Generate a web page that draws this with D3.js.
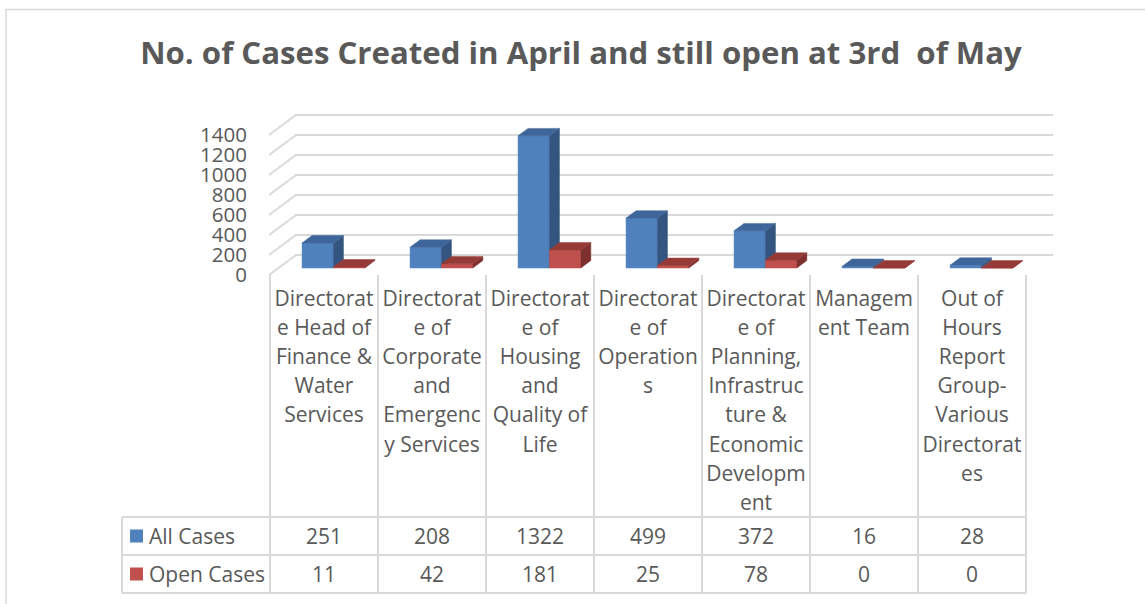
<!DOCTYPE html>
<html>
<head>
<meta charset="utf-8">
<script src="https://cdn.jsdelivr.net/npm/d3@7"></script>
<style>
  body { margin: 0; background: #fff; }
  text { font-family: "Open Sans", sans-serif; fill: #595959; }
</style>
</head>
<body>
<div id="chart"></div>
<script>
// ---------------- data ----------------
var title = "No. of Cases Created in April and still open at 3rd  of May";
var categories = [
  ["Directorat", "e Head of", "Finance &", "Water", "Services"],
  ["Directorat", "e of", "Corporate", "and", "Emergenc", "y Services"],
  ["Directorat", "e of", "Housing", "and", "Quality of", "Life"],
  ["Directorat", "e of", "Operation", "s"],
  ["Directorat", "e of", "Planning,", "Infrastruc", "ture &", "Economic", "Developm", "ent"],
  ["Managem", "ent Team"],
  ["Out of", "Hours", "Report", "Group-", "Various", "Directorat", "es"]
];
var seriesNames = ["All Cases", "Open Cases"];
var allCases = [251, 208, 1322, 499, 372, 16, 28];
var openCases = [11, 42, 181, 25, 78, 0, 0];
var yTicks = [0, 200, 400, 600, 800, 1000, 1200, 1400];

var colors = {
  "All Cases": { front: "#4f81bd", top: "#3e669a", side: "#34557f" },
  "Open Cases": { front: "#c0504d", top: "#963a38", side: "#7e302e" }
};

// ---------------- layout ----------------
var W = 1145, H = 604;
var X0 = 270, plotW = 756;       // front plane of the data area
var depthX = 27, depthY = -20;    // floor depth vector
var dFront = 0.35, dBack = 0.72;  // bar depth inside the floor
var tableTop = 275, headerBottom = 517, rowH = 38, legendLeft = 122;

var svg = d3.select("#chart").append("svg")
  .attr("width", W)
  .attr("height", H);

// chart border
svg.append("path")
  .attr("d", "M6," + H + " V9.5 H" + W)
  .attr("fill", "none")
  .attr("stroke", "#d9d9d9")
  .attr("stroke-width", 1.5);

// title, fitted to its width in the picture
var titleText = svg.append("text")
  .attr("x", 581)
  .attr("y", 64)
  .attr("text-anchor", "middle")
  .style("font-weight", "bold")
  .style("font-size", "30px")
  .style("white-space", "pre")
  .text(title);
var tw = titleText.node().getComputedTextLength();
titleText.style("font-size", (30 * 882 / tw) + "px");

// ---------------- scales ----------------
var yScale = d3.scaleLinear()
  .domain([0, 1400])
  .range([tableTop, tableTop - 140]);

var x0 = d3.scaleBand()
  .domain(d3.range(categories.length))
  .range([0, plotW]);

var x1 = d3.scaleBand()
  .domain(seriesNames)
  .range([0, x0.bandwidth()])
  .paddingInner(0)
  .paddingOuter(0.72);

function P(x, v, d) {
  return [X0 + x + depthX * d, yScale(v) + depthY * d];
}

// ---------------- walls ----------------
var grid = svg.append("g");
yTicks.forEach(function(t) {
  var a = P(-1, t, 0), b = P(-1, t, 1), c = P(plotW, t, 1);
  grid.append("path")
    .attr("d", "M" + a + "L" + b + "L" + c)
    .attr("fill", "none")
    .attr("stroke", "#d9d9d9")
    .attr("stroke-width", 1.8);
});

svg.append("g").selectAll("text")
  .data(yTicks)
  .enter().append("text")
    .attr("x", 247)
    .attr("y", d => yScale(d))
    .attr("dy", "0.36em")
    .attr("text-anchor", "end")
    .style("font-size", "20.5px")
    .text(d => d);

// ---------------- bars ----------------
var bars = [];
categories.forEach(function(c, i) {
  bars.push({ cat: i, series: "All Cases", value: allCases[i] });
  bars.push({ cat: i, series: "Open Cases", value: openCases[i] });
});

var gBars = svg.append("g");
bars.forEach(function(b) {
  var xl = x0(b.cat) + x1(b.series), xr = xl + x1.bandwidth(), v = b.value;
  var col = colors[b.series];
  var poly = function(pts, fill) {
    gBars.append("path")
      .attr("d", "M" + pts.join("L") + "Z")
      .attr("fill", fill)
      .attr("stroke", fill)
      .attr("stroke-width", 0.5)
      .attr("stroke-linejoin", "round");
  };
  poly([P(xl, 0, dFront), P(xr, 0, dFront), P(xr, v, dFront), P(xl, v, dFront)], col.front);
  poly([P(xr, 0, dFront), P(xr, 0, dBack), P(xr, v, dBack), P(xr, v, dFront)], col.side);
  poly([P(xl, v, dFront), P(xr, v, dFront), P(xr, v, dBack), P(xl, v, dBack)], col.top);
});

// ---------------- data table ----------------
var table = svg.append("g")
  .attr("stroke", "#d9d9d9")
  .attr("stroke-width", 2)
  .attr("fill", "none");

d3.range(categories.length + 1).forEach(function(i) {
  var x = X0 + (i < categories.length ? x0(i) : plotW);
  table.append("line")
    .attr("x1", x).attr("x2", x)
    .attr("y1", tableTop).attr("y2", headerBottom + 2 * rowH);
});
table.append("line")
  .attr("x1", legendLeft).attr("x2", legendLeft)
  .attr("y1", headerBottom).attr("y2", headerBottom + 2 * rowH);
d3.range(3).forEach(function(r) {
  var y = headerBottom + r * rowH;
  table.append("line")
    .attr("x1", legendLeft).attr("x2", X0 + plotW)
    .attr("y1", y).attr("y2", y);
});

// category labels
categories.forEach(function(lines, i) {
  svg.append("g").selectAll("text")
    .data(lines)
    .enter().append("text")
      .attr("x", X0 + x0(i) + x0.bandwidth() / 2)
      .attr("y", (d, k) => 298 + k * 29.2)
      .attr("dy", "0.36em")
      .attr("text-anchor", "middle")
      .style("font-size", "21px")
      .text(d => d);
});

// value rows with legend keys
var rows = [allCases, openCases];
rows.forEach(function(vals, r) {
  var cy = headerBottom + r * rowH + rowH / 2;
  var name = seriesNames[r];
  svg.append("rect")
    .attr("x", 130).attr("y", cy - 6.5)
    .attr("width", 13).attr("height", 13)
    .attr("fill", colors[name].front);
  svg.append("text")
    .attr("x", 149).attr("y", cy)
    .attr("dy", "0.36em")
    .style("font-size", "21px")
    .text(name);
  svg.append("g").selectAll("text")
    .data(vals)
    .enter().append("text")
      .attr("x", (d, i) => X0 + x0(i) + x0.bandwidth() / 2)
      .attr("y", cy)
      .attr("dy", "0.36em")
      .attr("text-anchor", "middle")
      .style("font-size", "21px")
      .text(d => d);
});
</script>
</body>
</html>
